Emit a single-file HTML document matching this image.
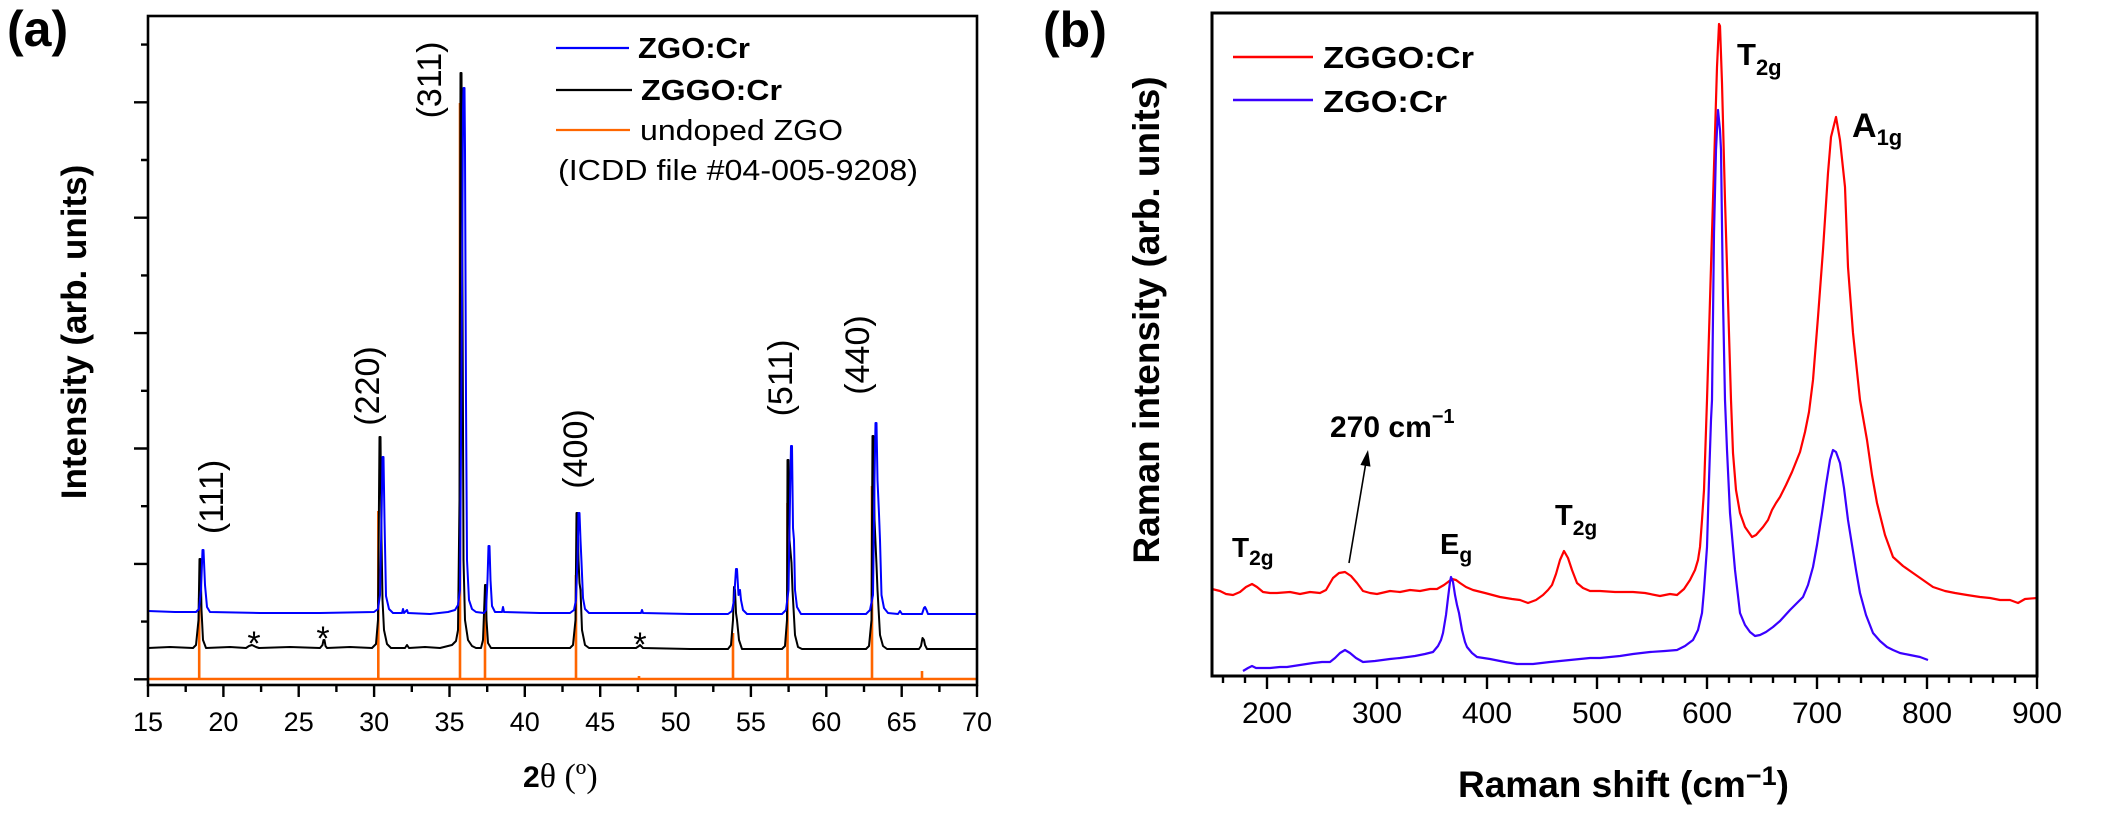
<!DOCTYPE html>
<html>
<head>
<meta charset="utf-8">
<style>
html,body{margin:0;padding:0;background:#fff;}
svg{display:block;}
text{font-family:"Liberation Sans",Arial,sans-serif;}
</style>
</head>
<body>
<svg width="2102" height="828" viewBox="0 0 2102 828" xmlns="http://www.w3.org/2000/svg">
<rect width="2102" height="828" fill="#fff"/>

<!-- ================= PANEL (a) ================= -->
<text x="7" y="46" font-size="50" font-weight="bold">(a)</text>

<!-- orange sticks -->
<g stroke="#ff6600" stroke-width="2.6" fill="none">
<path d="M148,679H977"/>
<path d="M199.2,679V598M378.3,679V511M460,679V103M485,679V612M576,679V575M639,679V676M733,679V633M787.5,679V503M872,679V486M922,679V671"/>
</g>

<!-- black ZGGO:Cr -->
<polyline fill="none" stroke="#000" stroke-width="2" stroke-linejoin="round" points="
148,648 170,647 193,648 196,645 198.5,620 199.5,559 200.5,559 201.5,610 203,640 206,648
230,647 246,648 249,646 252,645 256,647 259,648 290,647 320,648 322.5,645 323.5,640 324.5,640 325.5,646 327,648
350,647 372,648 376,644 378,620 379.5,437 380.5,437 381.5,540 382.5,600 384,630 387,644 391,648
405,648 407,645 409,648 425,647 440,648 452,645 456,641 458,630 459.5,500 460.5,73 461.5,73 462.5,300 463.5,560 465,620 468,640 472,646 476,648
481,648 483,640 484.5,600 485,585 485.8,585 486.5,620 488,643 491,648
530,648 570,648 573,645 575.5,620 576.5,513 577.5,513 578.5,560 579.5,583 580.5,590 582,630 585,645 589,648
610,648 636,648 639,646 640,645 641,646 643,648 690,649
728,649 731,645 733,620 734,587 735,590 736,613 737,620 739,640 742,649
782,649 785,646 787,620 787.5,460 788.5,460 789.5,540 791.5,563 792.5,590 795,635 798,647 802,649
840,649 866,649 869,646 871.5,620 872.5,436 873.5,436 874.5,520 876.5,565 877.5,590 880,635 883,646 887,649
919,649 921,646 922.5,638 924,640 925,645 927,649 977,649"/>

<!-- blue ZGO:Cr -->
<polyline fill="none" stroke="#0000ff" stroke-width="2" stroke-linejoin="round" points="
148,611 175,612 196,612 199,609 201,590 202.5,550 203.5,550 205,585 207,607 210,612
260,613 320,613 374,612 378,609 380,595 381.5,520 382.5,457 383.5,457 384.5,520 386,596 389,609 393,613
402,613 403,609 404,613 407,610 408,613 430,614 448,612 455,610 458,605 460,590 462,300 463,110 463.5,88 464.5,88 465,150 466,400 467,560 469,600 472,609 476,612
484,613 486,610 487.5,580 488.5,546 489.5,546 490.5,580 492,606 495,612 502,612 503,607 504,612
540,613 570,613 574,610 576,600 577.5,560 578.5,513 579.5,513 580.5,540 581.5,562 583,598 585,609 589,613
641,613 642,610 643,613 690,614
728,614 732,611 734,600 736,569 737,569 738.5,595 740,590 741,600 743,610 747,614
782,614 786,610 788.5,590 790,500 791,446 792,446 793,528 794,540 795,590 797,607 801,614
866,614 870,610 873,595 874.5,480 875.5,423 876.5,423 877.5,480 879,514 880,540 881.5,595 884,608 888,613
898,614 900,611 902,614 922,614 924,608 925,607 926.5,610 928,614 977,614"/>

<!-- stars -->
<g font-size="34" text-anchor="middle">
<text x="254" y="655">*</text>
<text x="323" y="650">*</text>
<text x="640" y="656">*</text>
</g>

<!-- peak labels -->
<g font-size="34" text-anchor="middle">
<text transform="translate(214,497) rotate(-90)" y="9">(111)</text>
<text transform="translate(370,386) rotate(-90)" y="9">(220)</text>
<text transform="translate(432,80) rotate(-90)" y="9">(311)</text>
<text transform="translate(578,449) rotate(-90)" y="9">(400)</text>
<text transform="translate(783,378) rotate(-90)" y="9">(511)</text>
<text transform="translate(860,355) rotate(-90)" y="9">(440)</text>
</g>

<!-- legend (a) -->
<g stroke-width="2.2">
<line x1="556" y1="48" x2="629" y2="48" stroke="#0000ff"/>
<line x1="556" y1="90" x2="632" y2="90" stroke="#000"/>
<line x1="556" y1="130" x2="630" y2="130" stroke="#ff6600"/>
</g>
<text x="638" y="58" font-size="29" font-weight="bold" textLength="112" lengthAdjust="spacingAndGlyphs">ZGO:Cr</text>
<text x="641" y="100" font-size="29" font-weight="bold" textLength="141" lengthAdjust="spacingAndGlyphs">ZGGO:Cr</text>
<text x="640" y="140" font-size="29" textLength="203" lengthAdjust="spacingAndGlyphs">undoped ZGO</text>
<text x="558" y="180" font-size="29" textLength="360" lengthAdjust="spacingAndGlyphs">(ICDD file #04-005-9208)</text>

<!-- frame (a) -->
<rect x="148" y="16" width="829" height="669" fill="none" stroke="#000" stroke-width="2.6"/>
<g stroke="#000" stroke-width="2.4">
<path d="M134,679.3H148M134,563.9H148M134,448.5H148M134,333.1H148M134,217.7H148M134,102.3H148"/>
<path d="M141,621.6H148M141,506.2H148M141,390.8H148M141,275.4H148M141,160H148M141,44.6H148"/>
<path d="M148,685V697M223.4,685V697M298.7,685V697M374.1,685V697M449.5,685V697M524.8,685V697M600.2,685V697M675.6,685V697M750.9,685V697M826.3,685V697M901.7,685V697M977,685V697"/>
<path d="M185.7,685V692M261.1,685V692M336.4,685V692M411.8,685V692M487.2,685V692M562.5,685V692M637.9,685V692M713.3,685V692M788.6,685V692M864,685V692M939.4,685V692"/>
</g>
<g font-size="27" text-anchor="middle">
<text x="148" y="731">15</text><text x="223.4" y="731">20</text><text x="298.7" y="731">25</text>
<text x="374.1" y="731">30</text><text x="449.5" y="731">35</text><text x="524.8" y="731">40</text>
<text x="600.2" y="731">45</text><text x="675.6" y="731">50</text><text x="750.9" y="731">55</text>
<text x="826.3" y="731">60</text><text x="901.7" y="731">65</text><text x="977" y="731">70</text>
</g>
<text x="523" y="787" font-size="30" font-weight="bold">2<tspan font-family="Liberation Serif, serif" font-weight="normal" font-size="34">θ (º)</tspan></text>
<text transform="translate(86,332) rotate(-90)" text-anchor="middle" font-size="35" font-weight="bold">Intensity (arb. units)</text>

<!-- ================= PANEL (b) ================= -->
<text x="1043" y="47" font-size="50" font-weight="bold">(b)</text>

<!-- red ZGGO:Cr -->
<polyline fill="none" stroke="#ff0000" stroke-width="2.2" stroke-linejoin="round" points="
1212,589 1220,591 1226,594 1233,595 1240,592 1246,587 1252,584 1257,587 1263,592 1270,593 1277,593 1290,592 1300,594 1310,592 1320,593 1326,590 1333,578 1339,573 1345,572 1351,576 1357,583 1363,591 1370,593 1377,594 1390,591 1400,592 1410,590 1420,591 1430,589 1437,589 1444,585 1452,579 1456,580 1460,583 1466,587 1473,590 1485,593 1500,597 1512,599 1520,600 1528,603 1536,600 1543,595 1548,590 1552,585 1556,574 1560,560 1564,551 1568,558 1572,570 1577,583 1583,588 1590,591 1600,591 1615,592 1633,592 1645,593 1660,596 1670,594 1677,595 1684,589 1690,580 1695,570 1698,560 1700,547 1702,520 1704,490 1706,430 1707,400 1710,300 1713,200 1717,67 1719,24 1720,26 1722,83 1725,200 1728,300 1731,400 1733,453 1736,490 1740,513 1745,527 1752,537 1756,535 1763,527 1768,520 1772,510 1776,503 1780,497 1786,485 1792,472 1796,462 1800,452 1805,432 1809,412 1813,380 1818,317 1823,250 1828,173 1831,137 1836,117 1840,140 1845,187 1848,267 1853,333 1860,400 1867,440 1872,475 1877,503 1885,535 1893,557 1903,566 1913,573 1923,580 1933,587 1945,591 1955,593 1967,595 1980,597 1990,598 2000,600 2010,600 2018,603 2025,599 2037,598"/>

<!-- blue ZGO:Cr -->
<polyline fill="none" stroke="#3a00ff" stroke-width="2.2" stroke-linejoin="round" points="
1243,671 1248,668 1252,666 1256,668 1260,668 1270,668 1280,667 1287,667 1300,665 1313,663 1322,662 1330,662 1335,658 1340,653 1345,650 1350,653 1356,658 1363,662 1375,661 1390,659 1400,658 1415,656 1425,654 1433,652 1438,646 1441,640 1443,633 1446,615 1448,598 1450,582 1451,577 1453,582 1455,595 1457,605 1459,613 1462,630 1465,642 1467,647 1472,653 1477,657 1490,659 1505,662 1517,664 1533,664 1550,662 1570,660 1590,658 1600,658 1620,656 1633,654 1650,652 1665,651 1677,650 1685,646 1693,640 1698,630 1702,613 1704,590 1707,547 1709,480 1711,420 1712,400 1714,233 1716,150 1718,110 1720,130 1721,150 1723,300 1725,400 1727,450 1730,513 1735,570 1740,613 1745,625 1750,632 1755,636 1760,635 1766,632 1773,627 1780,621 1790,610 1797,603 1803,597 1808,585 1813,567 1817,545 1822,513 1826,485 1830,460 1833,450 1836,452 1840,463 1844,488 1848,520 1852,545 1856,570 1860,593 1866,615 1873,633 1880,641 1887,647 1893,650 1900,653 1910,655 1920,657 1928,660"/>

<!-- legend (b) -->
<line x1="1233" y1="57" x2="1313" y2="57" stroke="#ff0000" stroke-width="2.6"/>
<line x1="1233" y1="100" x2="1313" y2="100" stroke="#3a00ff" stroke-width="2.6"/>
<text x="1323" y="68" font-size="31" font-weight="bold" textLength="151" lengthAdjust="spacingAndGlyphs">ZGGO:Cr</text>
<text x="1323" y="112" font-size="31" font-weight="bold" textLength="124" lengthAdjust="spacingAndGlyphs">ZGO:Cr</text>

<!-- annotations (b) -->
<g font-weight="bold">
<text x="1232" y="557" font-size="28">T<tspan font-size="21" dy="8">2g</tspan></text>
<text x="1330" y="437" font-size="30">270 cm<tspan font-size="20" dy="-14">−1</tspan></text>
<text x="1440" y="554" font-size="29">E<tspan font-size="21" dy="8">g</tspan></text>
<text x="1555" y="525" font-size="29">T<tspan font-size="21" dy="10">2g</tspan></text>
<text x="1737" y="65" font-size="31">T<tspan font-size="22" dy="10">2g</tspan></text>
<text x="1852" y="137" font-size="34">A<tspan font-size="22" dy="8">1g</tspan></text>
</g>
<line x1="1349" y1="563" x2="1365.5" y2="465" stroke="#000" stroke-width="1.6"/>
<polygon points="1368,450 1370.5,466.6 1360.4,465" fill="#000"/>

<!-- frame (b) -->
<rect x="1212" y="13" width="825" height="663" fill="none" stroke="#000" stroke-width="3"/>
<g stroke="#000" stroke-width="2.4">
<path d="M1267,676V689M1377,676V689M1487,676V689M1597,676V689M1707,676V689M1817,676V689M1927,676V689M2037,676V689"/>
<path d="M1223,676V683M1245,676V683M1289,676V683M1311,676V683M1333,676V683M1355,676V683M1399,676V683M1421,676V683M1443,676V683M1465,676V683M1509,676V683M1531,676V683M1553,676V683M1575,676V683M1619,676V683M1641,676V683M1663,676V683M1685,676V683M1729,676V683M1751,676V683M1773,676V683M1795,676V683M1839,676V683M1861,676V683M1883,676V683M1905,676V683M1949,676V683M1971,676V683M1993,676V683M2015,676V683"/>
</g>
<g font-size="30" text-anchor="middle">
<text x="1267" y="723">200</text><text x="1377" y="723">300</text><text x="1487" y="723">400</text>
<text x="1597" y="723">500</text><text x="1707" y="723">600</text><text x="1817" y="723">700</text>
<text x="1927" y="723">800</text><text x="2037" y="723">900</text>
</g>
<text x="1458" y="797" font-size="37" font-weight="bold">Raman shift (cm<tspan font-size="27" dy="-12">−1</tspan><tspan dy="12">)</tspan></text>
<text transform="translate(1159,320) rotate(-90)" text-anchor="middle" font-size="37" font-weight="bold">Raman intensity (arb. units)</text>
</svg>
</body>
</html>
